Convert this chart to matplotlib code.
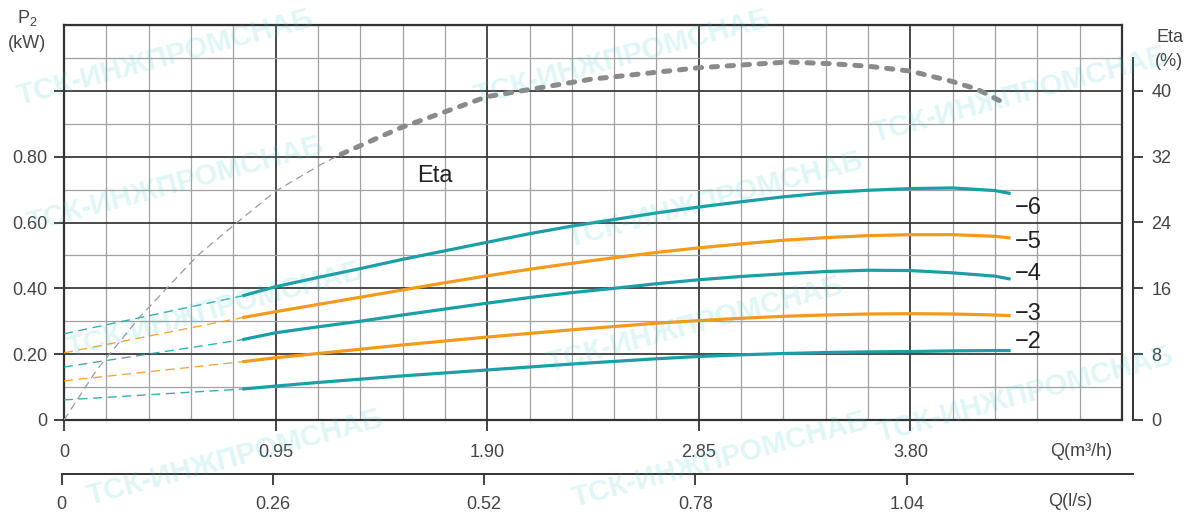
import matplotlib
matplotlib.use("Agg")
import matplotlib.pyplot as plt
import numpy as np

plt.rcParams['font.family'] = ['Liberation Sans', 'DejaVu Sans']
plt.rcParams['lines.scale_dashes'] = False
plt.rcParams['mathtext.fontset'] = 'custom'
plt.rcParams['mathtext.rm'] = 'Liberation Sans'
plt.rcParams['mathtext.it'] = 'Liberation Sans:italic'

# ---------------- data ----------------
q_solid = [0.80, 0.95, 1.14, 1.33, 1.52, 1.71, 1.90, 2.09, 2.28, 2.47, 2.66,
           2.85, 3.04, 3.23, 3.42, 3.61, 3.80, 3.99, 4.18, 4.25]
p_curve6 = [0.377, 0.405, 0.433, 0.460, 0.488, 0.514, 0.540, 0.566, 0.589, 0.609, 0.629,
            0.647, 0.663, 0.678, 0.690, 0.698, 0.703, 0.705, 0.697, 0.688]
p_curve5 = [0.311, 0.329, 0.351, 0.373, 0.395, 0.417, 0.438, 0.458, 0.476, 0.493, 0.509,
            0.523, 0.535, 0.546, 0.554, 0.560, 0.563, 0.563, 0.558, 0.553]
p_curve4 = [0.244, 0.265, 0.283, 0.300, 0.319, 0.337, 0.355, 0.372, 0.387, 0.400, 0.414,
            0.426, 0.436, 0.444, 0.451, 0.455, 0.454, 0.447, 0.437, 0.428]
p_curve3 = [0.177, 0.189, 0.202, 0.215, 0.228, 0.240, 0.252, 0.263, 0.274, 0.284, 0.294,
            0.302, 0.309, 0.315, 0.319, 0.322, 0.323, 0.322, 0.319, 0.317]
p_curve2 = [0.094, 0.103, 0.114, 0.124, 0.134, 0.143, 0.152, 0.161, 0.170, 0.178, 0.186,
            0.193, 0.198, 0.202, 0.205, 0.207, 0.208, 0.210, 0.211, 0.211]

q_ext = [0.0, 0.80]
p_ext_start = [0.262, 0.204, 0.161, 0.119, 0.061]   # P at Q=0 for curves 6,5,4,3,2

curve_names = ['−6', '−5', '−4', '−3', '−2']
curve_colors = ['#1a9fa6', '#f39a1c', '#1a9fa6', '#f39a1c', '#1a9fa6']

q_eta_thin = [0.0, 0.147, 0.34, 0.596, 0.777, 0.95, 1.15, 1.244]
eta_thin = [0.0, 6.1, 12.5, 19.9, 24.0, 27.8, 31.0, 32.3]
q_eta_thick = [1.244, 1.51, 1.90, 2.363, 2.848, 3.248, 3.441, 3.607, 3.80, 3.98, 4.10, 4.23]
eta_thick = [32.3, 35.5, 39.3, 41.4, 42.8, 43.5, 43.3, 43.0, 42.4, 41.2, 40.2, 38.4]

q_ticks_m3h = [0, 0.95, 1.90, 2.85, 3.80]
q_ticklabels_m3h = ['0', '0.95', '1.90', '2.85', '3.80']
q_ticks_ls = [0, 0.26, 0.52, 0.78, 1.04]
q_ticklabels_ls = ['0', '0.26', '0.52', '0.78', '1.04']
p_ticks = [0, 0.2, 0.4, 0.6, 0.8, 1.0]
p_ticklabels = ['0', '0.20', '0.40', '0.60', '0.80', '']
eta_ticks = [0, 8, 16, 24, 32, 40]
eta_ticklabels = ['0', '8', '16', '24', '32', '40']

watermark = 'ТСК-ИНЖПРОМСНАБ'

# ---------------- figure ----------------
W, H = 1188, 520
fig = plt.figure(figsize=(W / 100, H / 100), dpi=100)
fig.patch.set_facecolor('white')

def fx(px):
    return px / W

def fy(py):
    return 1 - py / H

ax = fig.add_axes([fx(64), fy(420), (1122 - 64) / W, (420 - 25) / H])
ax.set_xlim(0, 4.75)
ax.set_ylim(0, 1.2)

dark = '#333333'
tick_fs = 13
ax.set_xticks(q_ticks_m3h)
ax.set_xticklabels(q_ticklabels_m3h)
ax.set_yticks(p_ticks)
ax.set_yticklabels(p_ticklabels)
ax.set_xticks(np.arange(0, 4.75 + 1e-6, 0.19), minor=True)
ax.set_yticks(np.arange(0, 1.2 + 1e-6, 0.1), minor=True)
ax.grid(which='minor', color='#a0a0a0', lw=0.9, zorder=0)
ax.grid(which='major', color='#3a3a3a', lw=1.3, zorder=0)
ax.set_axisbelow(True)
ax.tick_params(which='minor', length=0)
ax.tick_params(axis='x', which='major', direction='out', length=8, width=1.3,
               color=dark, labelsize=tick_fs, labelcolor='#444444', pad=9)
ax.tick_params(axis='y', which='major', direction='out', length=7, width=1.3,
               color=dark, labelsize=tick_fs, labelcolor='#444444', pad=5)
for s in ax.spines.values():
    s.set_color(dark)
    s.set_linewidth(1.6)

# dashed extensions
for p0, ps, c in zip(p_ext_start, [p_curve6, p_curve5, p_curve4, p_curve3, p_curve2], curve_colors):
    ax.plot(q_ext, [p0, ps[0]], color=c, lw=1.0, dashes=(6.5, 4), alpha=0.85, zorder=3)

# solid curves
for ps, c in zip([p_curve6, p_curve5, p_curve4, p_curve3, p_curve2], curve_colors):
    ax.plot(q_solid, ps, color=c, lw=2.3, solid_capstyle='butt',
            solid_joinstyle='round', zorder=4)

# right axis for efficiency
axr = ax.twinx()
axr.set_ylim(0, 48)
for k in ['left', 'top', 'bottom']:
    axr.spines[k].set_visible(False)
axr.spines['right'].set_position(('outward', 8))
axr.spines['right'].set_bounds(0, 44)
axr.spines['right'].set_color(dark)
axr.spines['right'].set_linewidth(1.4)
axr.set_yticks(eta_ticks)
axr.set_yticklabels(eta_ticklabels)
axr.tick_params(axis='y', direction='out', length=7, width=1.3, color=dark,
                labelsize=tick_fs, labelcolor='#444444', pad=6)

axr.plot(q_eta_thin, eta_thin, color='#9a9a9a', lw=0.9, dashes=(5.5, 3.5), zorder=3)
axr.plot(q_eta_thick, eta_thick, color='#8a8a8a', lw=3.6, dashes=(4.5, 7.0),
         dash_capstyle='round', zorder=3)

# curve labels
label_pos = [(1015, 208), (1015, 242), (1015, 274), (1015, 314), (1015, 342)]
for name, (px, py) in zip(curve_names, label_pos):
    fig.text(fx(px), fy(py), name, fontsize=17, color='#222222', ha='left', va='center')

fig.text(fx(435), fy(176), 'Eta', fontsize=17, color='#222222', ha='center', va='center')

# second x axis (l/s)
ax2 = fig.add_axes([fx(61.5), fy(474), (1133 - 61.5) / W, 0.0001])
ax2.set_xlim(0, (1133 - 61.5) / 211.3 * 0.26)
for k in ['left', 'right', 'top']:
    ax2.spines[k].set_visible(False)
ax2.spines['bottom'].set_color(dark)
ax2.spines['bottom'].set_linewidth(1.4)
ax2.set_yticks([])
ax2.set_xticks(q_ticks_ls)
ax2.set_xticklabels(q_ticklabels_ls)
ax2.tick_params(axis='x', direction='out', length=8, width=1.3, color=dark,
                labelsize=tick_fs, labelcolor='#444444', pad=8)
ax2.patch.set_visible(False)

# axis titles
fig.text(fx(1081), fy(452), 'Q(m³/h)', fontsize=tick_fs, color='#444444', ha='center', va='center')
fig.text(fx(1070), fy(502), 'Q(l/s)', fontsize=tick_fs, color='#444444', ha='center', va='center')
fig.text(fx(27), fy(18), 'P$_\\mathrm{2}$', fontsize=tick_fs, color='#444444', ha='center', va='center')
fig.text(fx(27), fy(44), '(kW)', fontsize=tick_fs, color='#444444', ha='center', va='center')
fig.text(fx(1170), fy(37), 'Eta', fontsize=tick_fs, color='#444444', ha='center', va='center')
fig.text(fx(1169), fy(62), '(%)', fontsize=tick_fs, color='#444444', ha='center', va='center')

# watermarks (kept inside the canvas)
wm_pos = [(165, 58), (622, 58), (1020, 95), (175, 185), (715, 200), (215, 310),
          (695, 325), (1025, 395), (235, 458), (720, 460)]
for px, py in wm_pos:
    fig.text(fx(px), fy(py), watermark, fontsize=21, fontweight='bold',
             color='#3cc8c8', alpha=0.16, rotation=15, ha='center', va='center',
             rotation_mode='anchor', zorder=10)

fig.savefig('out.png', dpi=100, facecolor='white')
